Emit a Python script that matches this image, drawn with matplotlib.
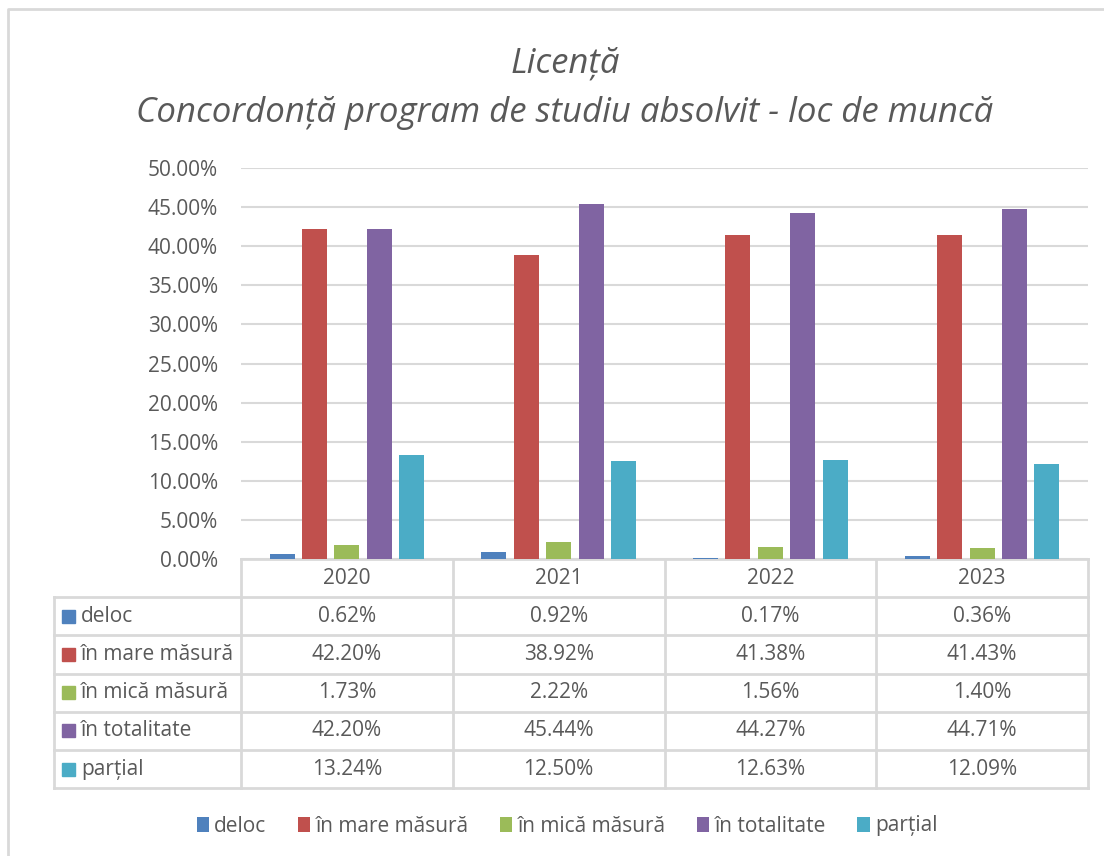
import matplotlib.pyplot as plt
from matplotlib.patches import Rectangle

plt.rcParams['font.family'] = ['Open Sans', 'DejaVu Sans']

years = ['2020', '2021', '2022', '2023']
series = ['deloc', 'în mare măsură', 'în mică măsură', 'în totalitate', 'parțial']
deloc = [0.62, 0.92, 0.17, 0.36]
mare = [42.20, 38.92, 41.38, 41.43]
mica = [1.73, 2.22, 1.56, 1.40]
totalitate = [42.20, 45.44, 44.27, 44.71]
partial = [13.24, 12.50, 12.63, 12.09]
colors = ['#4F81BD', '#C0504D', '#9BBB59', '#8064A2', '#4BACC6']

values = [deloc, mare, mica, totalitate, partial]
txt = '#595959'
grid = '#D9D9D9'
fs = 15

W, H = 1104, 856
fig = plt.figure(figsize=(W / 100, H / 100), dpi=100)

# overlay in pixel coordinates for the table and frame
ov = fig.add_axes([0, 0, 1, 1])
ov.set_xlim(0, W)
ov.set_ylim(H, 0)
ov.axis('off')

# chart frame
ov.plot([8, 8, W + 5], [H + 5, 9, 9], color=grid, lw=2)

# plot area
x0, x1, ytop, ybot = 241, 1088, 168, 559
ax = fig.add_axes([x0 / W, 1 - ybot / H, (x1 - x0) / W, (ybot - ytop) / H])
ax.set_xlim(-0.5, 3.5)
ax.set_ylim(0, 50)
for s in ax.spines.values():
    s.set_visible(False)
ax.set_yticks(range(0, 51, 5))
ax.set_yticklabels([f'{v:.2f}%' for v in range(0, 51, 5)], fontsize=fs, color=txt)
ax.tick_params(axis='y', length=0, pad=16.5)
ax.set_xticks([])
ax.grid(axis='y', color=grid, lw=1.5)
ax.set_axisbelow(True)

step = 0.153
width = 0.118
handles = []
for i, (name, vals) in enumerate(zip(series, values)):
    pos = [k + (i - 2) * step for k in range(len(years))]
    b = ax.bar(pos, vals, width=width, color=colors[i], label=name, zorder=3)
    handles.append(b)

# data table
col_w = (x1 - x0) / len(years)
row_h = 38.2
lbl_x = 54
lc = '#D9D9D9'
ov.plot([x0, x1], [ybot, ybot], color=lc, lw=2)
for k in range(len(years) + 1):
    xx = x0 + k * col_w
    ov.plot([xx, xx], [ybot, ybot + row_h * 6], color=lc, lw=2)
for k, yr in enumerate(years):
    ov.text(x0 + (k + 0.5) * col_w, ybot + row_h / 2, yr, ha='center', va='center',
            fontsize=fs, color=txt)
for r in range(len(series) + 1):
    yy = ybot + row_h * (r + 1)
    ov.plot([lbl_x, x1], [yy, yy], color=lc, lw=2)
ov.plot([lbl_x, lbl_x], [ybot + row_h, ybot + row_h * 6], color=lc, lw=2)
for r, (name, vals) in enumerate(zip(series, values)):
    yc = ybot + row_h * (r + 1.5)
    ov.add_patch(Rectangle((62, yc - 6.5), 13, 13, color=colors[r]))
    ov.text(81, yc, name, ha='left', va='center', fontsize=fs, color=txt)
    for k, v in enumerate(vals):
        ov.text(x0 + (k + 0.5) * col_w, yc, f'{v:.2f}%', ha='center', va='center',
                fontsize=fs, color=txt)

# titles
ov.text(565, 63, 'Licență', ha='center', va='center', fontsize=25, style='italic', color=txt)
ov.text(565, 113, 'Concordonță program de studiu absolvit - loc de muncă', ha='center',
        va='center', fontsize=25, style='italic', color=txt)

fig.legend(handles=handles, labels=series, loc='center', bbox_to_anchor=(567 / W, 1 - 826 / H),
           ncol=5, frameon=False, fontsize=fs, labelcolor=txt, handlelength=0.6,
           handleheight=0.7, handletextpad=0.25, columnspacing=1.5)

fig.savefig('out.png', dpi=100)
